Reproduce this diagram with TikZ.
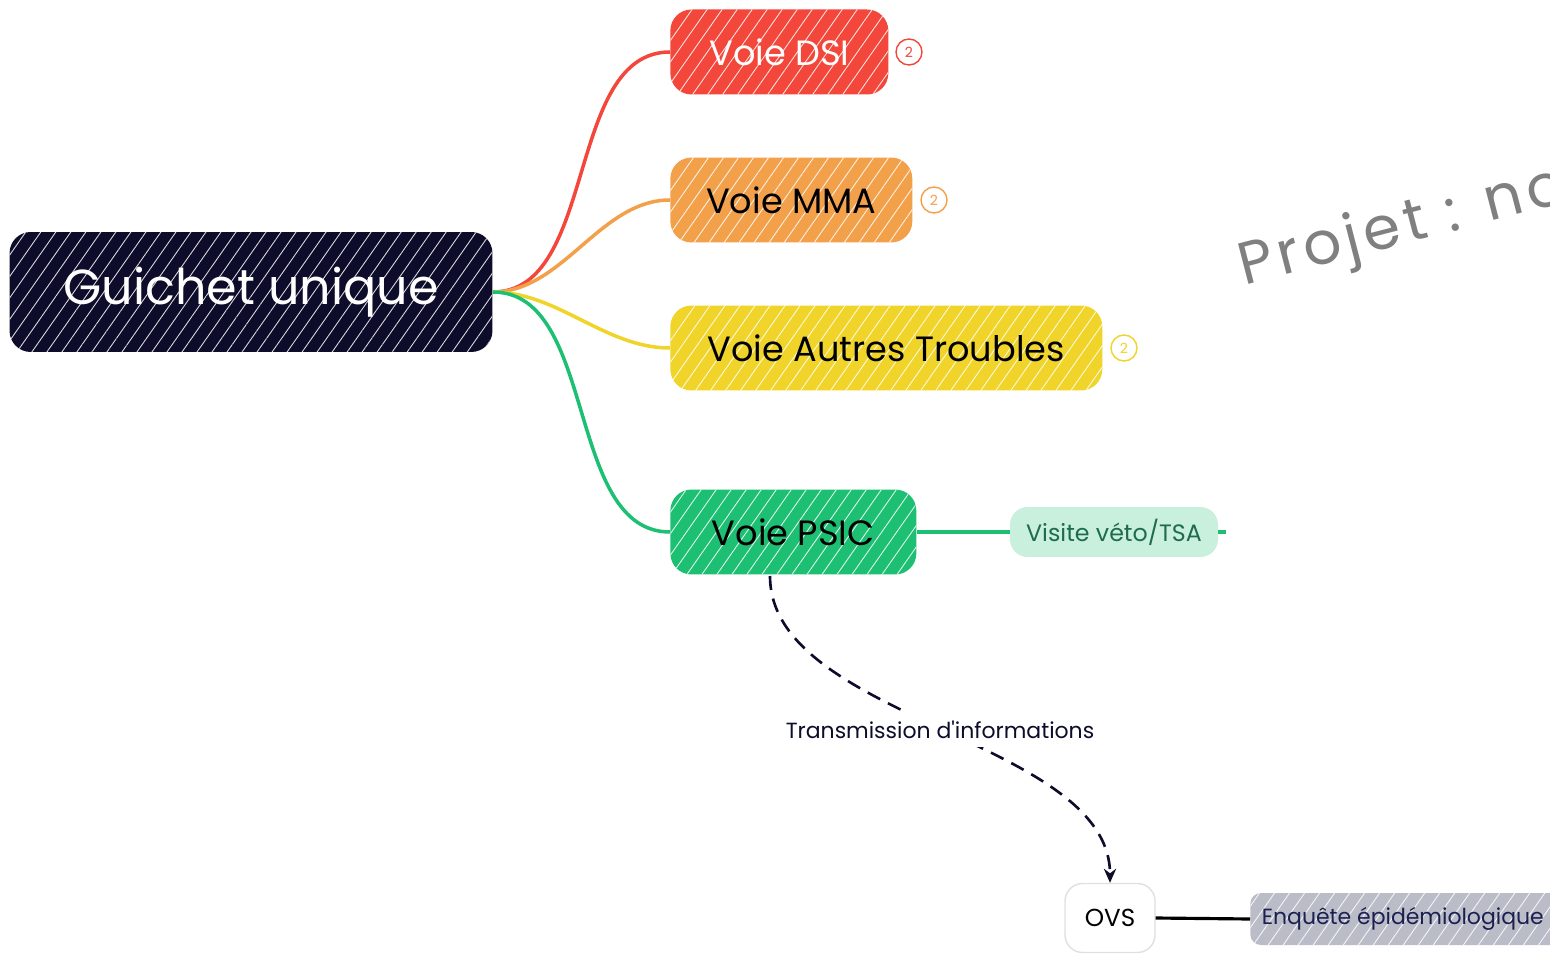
\documentclass[tikz,border=0pt]{standalone}
\usepackage{fontspec}
\setmainfont{Poppins}
\usetikzlibrary{arrows.meta,patterns.meta}

\definecolor{navy}{HTML}{0D0D2B}
\definecolor{dsired}{HTML}{F2473A}
\definecolor{mmaorange}{HTML}{F3A04A}
\definecolor{atyellow}{HTML}{F0D42A}
\definecolor{psicgreen}{HTML}{1DBF73}
\definecolor{paleGreen}{HTML}{C8F0DC}
\definecolor{darkGreen}{HTML}{1F6B4F}
\definecolor{enqGray}{HTML}{BABCC8}
\definecolor{enqText}{HTML}{1C2050}

\tikzset{
  sketch/.style={rounded corners=12pt, inner sep=0pt,
    postaction={pattern={Lines[angle=55, distance=7pt, line width=0.5pt]}, pattern color=white!85!#1}},
  rootbox/.style={sketch=navy, fill=navy, text=white, font=\fontsize{28}{32}\selectfont,
    minimum width=9.66cm, minimum height=2.4cm},
  voiebox/.style={sketch=#1, fill=#1, font=\fontsize{20}{24}\selectfont,
    minimum height=1.7cm, anchor=west},
  badge/.style={circle, draw=#1, line width=0.8pt, fill=white, text=#1,
    inner sep=0pt, minimum size=0.52cm, font=\fontsize{8}{9}\selectfont},
  branch/.style={line width=2pt, draw=#1, out=0, in=180, looseness=0.9},
  leafbox/.style={rounded corners=10pt, inner sep=0pt, minimum height=1cm},
}

\begin{document}
\begin{tikzpicture}[x=0.02cm, y=-0.02cm]
	\useasboundingbox (0,0) rectangle (1550,955);
	% racine
	\node[rootbox] (guichet) at (251,292) {Guichet unique};
	% voies
	\node[voiebox=dsired, text=white, minimum width=4.36cm] (dsi) at (670,52) {Voie DSI};
	\node[voiebox=mmaorange, text=black, minimum width=4.84cm] (mma) at (670,200) {Voie MMA};
	\node[voiebox=atyellow, text=black, minimum width=8.64cm] (autres) at (670,348) {Voie Autres Troubles};
	\node[voiebox=psicgreen, text=black, minimum width=4.92cm] (psic) at (670,532) {Voie PSIC};
	% compteurs
	\node[badge=dsired] (bdsi) at (909,52) {2};
	\node[badge=mmaorange] (bmma) at (934,200) {2};
	\node[badge=atyellow] (bautres) at (1124,348) {2};
	% feuilles
	\node[leafbox, fill=paleGreen, text=darkGreen, font=\fontsize{13.5}{16}\selectfont,
	  minimum width=4.16cm] (visite) at (1114,532) {Visite véto/TSA};
	\coordinate (suite) at (1226,532);
	\node[leafbox, fill=white, draw=black!12, line width=0.8pt, font=\fontsize{14}{16}\selectfont,
	  minimum width=1.8cm, minimum height=1.38cm] (ovs) at (1110,918) {OVS};
	\node[sketch=enqGray, rounded corners=6pt, fill=enqGray, text=enqText, font=\fontsize{12.5}{15}\selectfont,
	  minimum width=6.2cm, minimum height=1.04cm, anchor=west] (enquete) at (1250,919) {\hspace*{-0.05cm}Enquête épidémiologique\hspace*{0.05cm}};
	\coordinate (depart) at (770,576);
	% liens
	\draw[branch=dsired] (guichet.east) to (dsi.west);
	\draw[branch=mmaorange] (guichet.east) to (mma.west);
	\draw[branch=atyellow] (guichet.east) to (autres.west);
	\draw[branch=psicgreen] (guichet.east) to (psic.west);
	\draw[line width=2pt, psicgreen] (psic.east) -- (visite.west);
	\draw[line width=2pt, psicgreen] (visite.east) -- (suite);
	\draw[line width=1.5pt, navy, dash pattern=on 8pt off 5pt, -{Stealth[length=8pt,width=7pt]}]
	  (depart) to[out=-90, in=90, looseness=0.8]
	  node[fill=white, text=navy, font=\fontsize{12.5}{15}\selectfont, inner sep=5pt] (transm) {Transmission d\textquotesingle informations}
	  (ovs.north);
	\draw[line width=1.8pt, black] (ovs.east) -- (enquete.west);
	% filigrane
	\node[rotate=14.5, anchor=base west, text=black!50, font=\fontsize{34}{40}\selectfont\addfontfeature{LetterSpace=8}]
	  (projet) at (1238,287) {Projet : no};
\end{tikzpicture}
\end{document}
